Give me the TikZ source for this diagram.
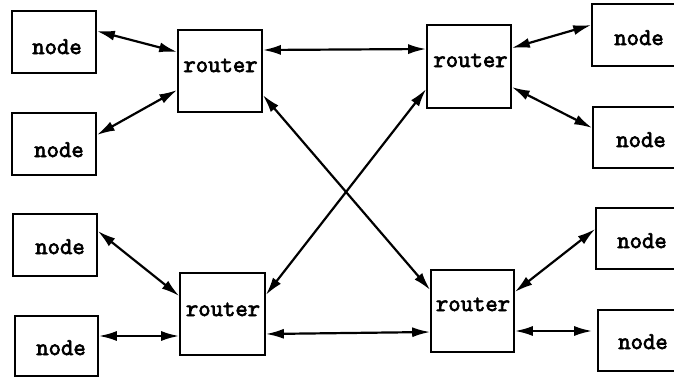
\documentclass[tikz,border=0pt]{standalone}
\usepackage{fontspec}
\newfontfamily\boldtt[FakeBold=3]{Latin Modern Mono}
\usetikzlibrary{arrows.meta}
\begin{document}
\begin{tikzpicture}[x=1pt,y=-1pt,
  box/.style={draw,line width=1.6pt,inner sep=0pt,minimum width=84pt,minimum height=62pt},
  rbox/.style={box,minimum height=82pt},
  wbox/.style={box,minimum width=100pt,minimum height=61pt},
  lbl/.style={anchor=base,inner sep=0pt,font=\fontsize{24}{28}\boldtt},
  link/.style={line width=2.2pt,{Latex[length=18pt,width=10pt]}-{Latex[length=18pt,width=10pt]}}]
\useasboundingbox (0,0) rectangle (674,378);
\clip (0,0) rectangle (674,378);
% left nodes
\node[box] (n1) at (54,42) {};
\node[box] (n2) at (54,144) {};
\node[box] (n3) at (55,245) {};
\node[box,minimum width=83pt,minimum height=60pt] (n4) at (56.5,346) {};
% routers
\node[rbox] (r1) at (220,71) {};
\node[rbox,minimum height=83pt] (r2) at (469,66.5) {};
\node[rbox,minimum width=85pt] (r3) at (222.5,314) {};
\node[rbox,minimum width=83pt] (r4) at (472.5,311) {};
% right nodes (cut at the edge)
\node[wbox,minimum height=62pt] (m1) at (642,35) {};
\node[wbox] (m2) at (643,137.5) {};
\node[wbox] (m3) at (646,238.5) {};
\node[wbox] (m4) at (648,340.5) {};
% labels
\node[lbl] (t1) at ([shift={(3,12)}]n1.center) {node};
\node[lbl] (t2) at ([shift={(5,13)}]n2.center) {node};
\node[lbl] (t3) at ([shift={(5,9)}]n3.center) {node};
\node[lbl] (t4) at ([shift={(4.5,9)}]n4.center) {node};
\node[lbl] (s1) at ([shift={(0.5,1)}]r1.center) {router};
\node[lbl] (s2) at ([shift={(1.5,0.5)}]r2.center) {router};
\node[lbl] (s3) at ([shift={(0.5,2)}]r3.center) {router};
\node[lbl] (s4) at ([shift={(0.5,0)}]r4.center) {router};
\node[lbl] (u1) at (639,45) {node};
\node[lbl] (u2) at (641,147) {node};
\node[lbl] (u3) at (642,248) {node};
\node[lbl] (u4) at (643,349) {node};
% connectors
\draw[link] ([yshift=11pt]n1.east) -- ([yshift=19pt]r1.west);
\draw[link] ([yshift=9pt]n2.east) -- ([yshift=-19pt]r1.west);
\draw[link] ([yshift=21pt]r1.east) -- ([yshift=17.5pt]r2.west);
\draw[link] ([yshift=-24pt]r1.east) -- ([yshift=21pt]r4.west);
\draw[link] ([yshift=-22.5pt]r2.west) -- ([yshift=19pt]r3.east);
\draw[link] ([yshift=18.5pt]r2.east) -- ([yshift=10pt]m1.west);
\draw[link] ([yshift=-20.5pt]r2.east) -- ([yshift=9.5pt]m2.west);
\draw[link] ([yshift=14pt]n3.east) -- ([yshift=18pt]r3.west);
\draw[link] ([yshift=10pt]n4.east) -- ([yshift=-22pt]r3.west);
\draw[link] ([yshift=-20pt]r3.east) -- ([yshift=-21pt]r4.west);
\draw[link] ([yshift=19pt]r4.east) -- ([yshift=9.5pt]m3.west);
\draw[link,shorten >=5pt] ([yshift=-20pt]r4.east) -- ([yshift=9.5pt]m4.west);
\end{tikzpicture}
\end{document}
